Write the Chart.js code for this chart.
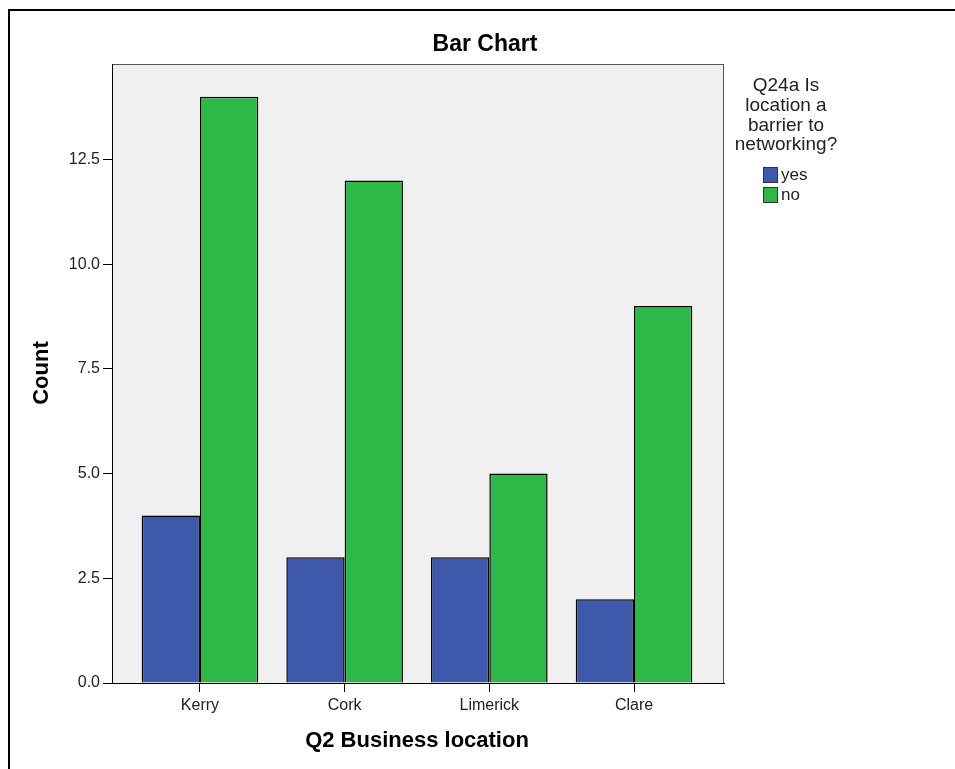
<!DOCTYPE html>
<html>
<head>
<meta charset="utf-8">
<title>Bar Chart</title>
<script src="https://cdn.jsdelivr.net/npm/chart.js@4"></script>
<style>
  html, body { margin: 0; padding: 0; background: #ffffff; }
  #wrap { width: 955px; height: 769px; }
</style>
</head>
<body>
<div id="wrap"><canvas id="chart" width="955" height="769"></canvas></div>
<script>
// Business location by answer to "Is location a barrier to networking?"
const categories = ['Kerry', 'Cork', 'Limerick', 'Clare'];
const yesCounts = [4, 3, 3, 2];
const noCounts = [14, 12, 5, 9];
const seriesNames = ['yes', 'no'];
const seriesColors = ['#3E58AC', '#2EB848'];
const legendTitle = ['Q24a Is', 'location a', 'barrier to', 'networking?'];
const chartTitle = 'Bar Chart';
const xTitle = 'Q2 Business location';
const yTitle = 'Count';

const FONT = "'Liberation Sans', Arial, sans-serif";
Chart.defaults.font.family = FONT;

// Background panel, page frame, titles and legend
const decorations = {
  id: 'decorations',
  beforeDraw(chart) {
    const { ctx, chartArea: a, width, height } = chart;
    ctx.save();
    ctx.fillStyle = '#ffffff';
    ctx.fillRect(0, 0, width, height);
    ctx.fillStyle = '#F0F0F0';
    ctx.fillRect(a.left, a.top, a.right - a.left, a.bottom - a.top);
    ctx.strokeStyle = '#555555';
    ctx.lineWidth = 1;
    ctx.strokeRect(a.left + 0.5, a.top + 0.5, a.right - a.left - 1, a.bottom - a.top);
    ctx.restore();
  },
  afterDraw(chart) {
    const { ctx, width, height } = chart;
    ctx.save();
    // frame
    ctx.fillStyle = '#000000';
    ctx.fillRect(8, 9, width - 8, 2);
    ctx.fillRect(8, 9, 2, height - 9);

    ctx.fillStyle = '#000000';
    ctx.textAlign = 'center';
    ctx.textBaseline = 'middle';
    ctx.font = 'bold 23px ' + FONT;
    ctx.fillText(chartTitle, 485, 45);

    ctx.font = 'bold 22px ' + FONT;
    ctx.fillText(xTitle, 417, 741);

    ctx.save();
    ctx.translate(42, 373);
    ctx.rotate(-Math.PI / 2);
    ctx.fillText(yTitle, 0, 0);
    ctx.restore();

    // legend
    ctx.fillStyle = '#222222';
    ctx.font = '19px ' + FONT;
    legendTitle.forEach((line, i) => ctx.fillText(line, 786, 86 + i * 19.7));

    ctx.textAlign = 'left';
    ctx.font = '17px ' + FONT;
    chart.data.datasets.forEach((ds, i) => {
      const y = 167 + i * 20;
      ctx.fillStyle = ds.backgroundColor;
      ctx.fillRect(763, y, 14, 15);
      ctx.strokeStyle = '#333333';
      ctx.lineWidth = 1;
      ctx.strokeRect(763.5, y + 0.5, 14, 15);
      ctx.fillStyle = '#222222';
      ctx.fillText(ds.label, 781, y + 8);
    });
    ctx.restore();
  }
};

new Chart(document.getElementById('chart'), {
  type: 'bar',
  data: {
    datasets: [
      {
        label: seriesNames[0],
        data: yesCounts.map((v, i) => ({ x: i, y: v })),
        backgroundColor: seriesColors[0],
        borderColor: '#000000',
        borderWidth: 1.5
      },
      {
        label: seriesNames[1],
        data: noCounts.map((v, i) => ({ x: i, y: v })),
        backgroundColor: seriesColors[1],
        borderColor: '#000000',
        borderWidth: 1.5
      }
    ]
  },
  options: {
    responsive: false,
    animation: false,
    devicePixelRatio: 1,
    categoryPercentage: 0.806,
    barPercentage: 1,
    layout: { padding: { left: 0, top: 64, right: 231, bottom: 0 } },
    plugins: {
      legend: { display: false },
      tooltip: { enabled: false },
      title: { display: false }
    },
    scales: {
      x: {
        type: 'linear',
        offset: false,
        min: -0.608,
        max: 3.622,
        afterBuildTicks(scale) {
          scale.ticks = categories.map((_, i) => ({ value: i }));
        },
        afterFit(scale) { scale.height = 86; },
        ticks: {
          autoSkip: false,
          maxRotation: 0,
          padding: 4,
          color: '#222222',
          font: { size: 16 },
          callback: (v) => categories[v] ?? ''
        },
        grid: { offset: false, drawOnChartArea: false, drawTicks: true, tickLength: 9, color: '#000000' },
        border: { color: '#000000', width: 1 }
      },
      y: {
        min: 0,
        max: 14.78,
        afterFit(scale) { scale.width = 112; },
        ticks: {
          stepSize: 2.5,
          includeBounds: false,
          padding: 3,
          color: '#222222',
          font: { size: 16 },
          callback: (v) => Number(v).toFixed(1)
        },
        grid: { drawOnChartArea: false, drawTicks: true, tickLength: 9, color: '#000000' },
        border: { color: '#000000', width: 1 }
      }
    }
  },
  plugins: [decorations]
});
</script>
</body>
</html>
